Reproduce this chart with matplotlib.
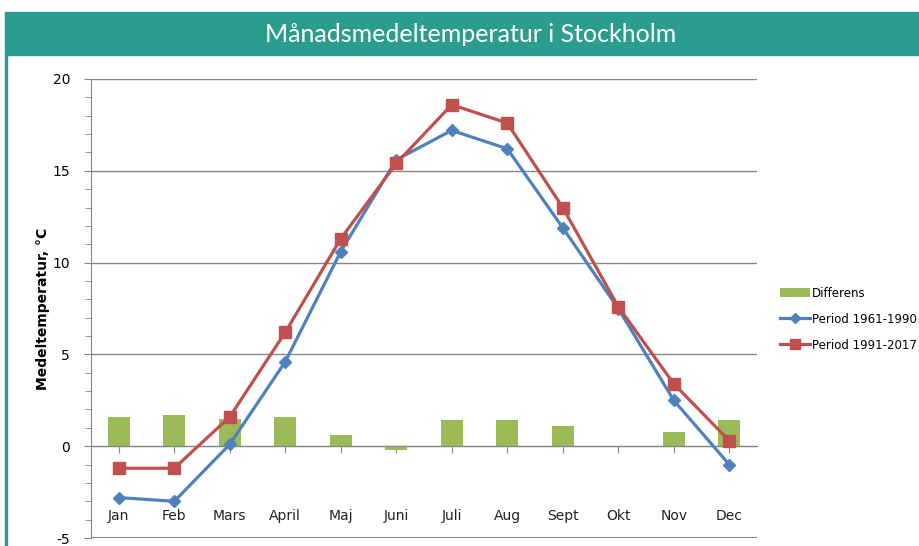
import matplotlib
matplotlib.use("Agg")
import matplotlib.pyplot as plt
from matplotlib.patches import Rectangle
from matplotlib.ticker import MultipleLocator
import numpy as np

plt.rcParams["axes.unicode_minus"] = False

months = ["Jan", "Feb", "Mars", "April", "Maj", "Juni", "Juli", "Aug", "Sept", "Okt", "Nov", "Dec"]
period_1961_1990 = [-2.8, -3.0, 0.1, 4.6, 10.6, 15.6, 17.2, 16.2, 11.9, 7.5, 2.5, -1.0]
period_1991_2017 = [-1.2, -1.2, 1.6, 6.2, 11.3, 15.4, 18.6, 17.6, 13.0, 7.6, 3.4, 0.3]
differens = [1.6, 1.7, 1.5, 1.6, 0.6, -0.2, 1.4, 1.4, 1.1, 0.0, 0.8, 1.4]

teal = "#2A9D8F"
blue = "#4F81BD"
red = "#C0504D"
green = "#9BBB59"
grid = "#868686"

fig = plt.figure(figsize=(9.2, 5.46), dpi=100)

# header band + left frame line
fig.patches.append(Rectangle((5 / 920, 1 - 55 / 546), 915 / 920, 43 / 546,
                             transform=fig.transFigure, color=teal, zorder=0))
fig.patches.append(Rectangle((5 / 920, 0), 2 / 920, 1 - 55 / 546,
                             transform=fig.transFigure, color=teal, zorder=0))
fig.text(471 / 920, 1 - 34 / 546, "Månadsmedeltemperatur i Stockholm",
         color="white", fontsize=18, family="Lato", ha="center", va="center")

ax = fig.add_axes([91 / 920, 1 - 538 / 546, 666 / 920, 459 / 546])
x = np.arange(len(months))

bars = ax.bar(x, differens, width=0.4, color=green, label="Differens", zorder=2)
l1, = ax.plot(x, period_1961_1990, color=blue, lw=2.3, marker="D", ms=6,
              label="Period 1961-1990", zorder=3)
l2, = ax.plot(x, period_1991_2017, color=red, lw=2.3, marker="s", ms=8.5,
              label="Period 1991-2017", zorder=4)

ax.set_xlim(-0.5, len(months) - 0.5)
ax.set_ylim(-5, 20)
ax.yaxis.set_major_locator(MultipleLocator(5))
ax.yaxis.set_minor_locator(MultipleLocator(1))
ax.grid(axis="y", which="major", color=grid, lw=1, zorder=0)
ax.tick_params(axis="y", which="both", direction="out", color=grid, labelsize=10, pad=10)
ax.tick_params(axis="y", which="major", length=5)
ax.tick_params(axis="y", which="minor", length=4)

# category axis crosses at zero, labels near the bottom
ax.spines["bottom"].set_position(("data", 0))
ax.spines["bottom"].set_color(grid)
ax.spines["left"].set_color(grid)
ax.spines["top"].set_visible(False)
ax.spines["right"].set_visible(False)
ax.set_xticks(x)
ax.set_xticklabels([])
ax.tick_params(axis="x", direction="out", length=5, color=grid)
ax.axhline(-5, color=grid, lw=1.5, zorder=1)
for i, m in enumerate(months):
    ax.text(i, -3.8, m, ha="center", va="center", fontsize=10, color="#222222")

ax.set_ylabel("Medeltemperatur, °C", fontsize=10, fontweight="bold", labelpad=2)

ax.legend([bars, l1, l2], ["Differens", "Period 1961-1990", "Period 1991-2017"],
          loc="center left", bbox_to_anchor=(1.035, 0.477), frameon=False,
          borderaxespad=0, borderpad=0, fontsize=8.5, handlelength=2.5,
          handletextpad=0.2, labelspacing=1.1, markerscale=0.8)

plt.savefig("out.png", dpi=100)
